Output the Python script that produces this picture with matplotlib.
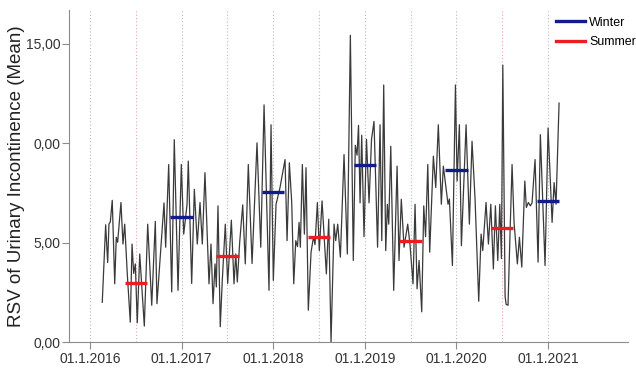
import numpy as np
import matplotlib.pyplot as plt
from matplotlib.lines import Line2D

plt.rcParams['font.family'] = ['Liberation Sans', 'DejaVu Sans']

# weekly search volume, time in years since 01.01.2016
years = [0.134, 0.171, 0.193, 0.207, 0.222, 0.243, 0.270, 0.287, 0.302, 0.338,
         0.360, 0.379, 0.407, 0.440, 0.459, 0.477, 0.495, 0.516, 0.543, 0.593,
         0.630, 0.674, 0.713, 0.731, 0.808, 0.826, 0.859, 0.892, 0.920, 0.961,
         0.997, 1.023, 1.059, 1.073, 1.110, 1.139, 1.171, 1.201, 1.226, 1.255,
         1.299, 1.321, 1.343, 1.365, 1.379, 1.397, 1.422, 1.444, 1.477, 1.503,
         1.543, 1.572, 1.591, 1.608, 1.634, 1.667, 1.695, 1.728, 1.769, 1.823,
         1.864, 1.900, 1.954, 1.976, 2.001, 2.031, 2.074, 2.129, 2.151, 2.176,
         2.202, 2.224, 2.246, 2.265, 2.282, 2.296, 2.318, 2.340, 2.358, 2.383,
         2.413, 2.440, 2.456, 2.482, 2.503, 2.533, 2.580, 2.606, 2.631, 2.664,
         2.682, 2.704, 2.733, 2.773, 2.809, 2.842, 2.874, 2.896, 2.915, 2.931,
         2.948, 2.966, 2.991, 3.018, 3.046, 3.073, 3.100, 3.139, 3.166, 3.185,
         3.206, 3.228, 3.246, 3.261, 3.283, 3.315, 3.352, 3.373, 3.398, 3.428,
         3.468, 3.493, 3.526, 3.548, 3.570, 3.592, 3.621, 3.643, 3.663, 3.687,
         3.708, 3.748, 3.774, 3.802, 3.835, 3.857, 3.908, 3.923, 3.956, 3.989,
         4.007, 4.032, 4.054, 4.105, 4.141, 4.170, 4.203, 4.243, 4.269, 4.287,
         4.323, 4.349, 4.375, 4.403, 4.425, 4.451, 4.473, 4.491, 4.506, 4.531,
         4.542, 4.563, 4.585, 4.607, 4.629, 4.665, 4.687, 4.713, 4.746, 4.763,
         4.785, 4.807, 4.825, 4.858, 4.891, 4.916, 4.967, 5.000, 5.044, 5.066,
         5.087, 5.120]
rsv = [2.0, 5.9, 4.0, 5.93, 6.05, 7.13, 2.93, 5.27, 5.02, 7.02,
       4.93, 5.93, 3.43, 1.0, 4.93, 3.45, 3.93, 0.97, 4.43, 0.8,
       5.93, 1.85, 6.07, 1.93, 7.0, 4.77, 8.93, 2.52, 10.18, 2.6,
       8.93, 5.43, 6.9, 9.1, 2.95, 7.68, 4.93, 7.02, 4.93, 8.52,
       2.93, 4.93, 1.93, 3.93, 2.77, 6.85, 0.77, 3.1, 5.93, 2.95,
       6.13, 2.93, 4.43, 3.02, 5.02, 6.9, 3.93, 8.93, 3.95, 10.02,
       4.77, 11.93, 2.6, 10.93, 3.1, 6.93, 7.77, 9.18, 5.1, 9.02,
       7.02, 2.93, 5.1, 4.8, 6.02, 4.77, 8.93, 5.43, 8.77, 1.6,
       4.52, 5.3, 4.9, 7.02, 4.6, 7.1, 3.43, 6.18, 0.0, 5.93,
       5.1, 5.93, 4.27, 9.43, 4.43, 15.43, 4.1, 9.9, 9.4, 10.9,
       7.0, 10.4, 5.3, 10.2, 7.0, 10.2, 11.1, 4.77, 10.93, 5.1,
       12.93, 4.6, 6.93, 5.93, 9.85, 2.6, 8.85, 4.1, 7.18, 4.77,
       5.93, 4.9, 2.93, 6.93, 2.68, 4.1, 1.52, 6.85, 5.3, 8.93,
       4.52, 9.35, 7.77, 10.93, 6.93, 8.85, 6.93, 7.2, 3.85, 12.93,
       8.1, 10.93, 4.85, 10.93, 5.93, 10.1, 7.2, 2.05, 5.43, 4.6,
       7.02, 4.93, 6.93, 3.68, 6.85, 4.1, 6.93, 4.2, 13.93, 2.3,
       1.9, 1.85, 5.5, 8.93, 6.0, 3.93, 5.27, 3.77, 8.1, 6.77,
       7.02, 6.85, 7.0, 9.18, 4.02, 10.43, 3.85, 10.77, 6.02, 8.02,
       6.93, 12.02]

# seasonal means (centre of season in years since 2016)
summer_mid = [0.5, 1.5, 2.5, 3.5, 4.5]
summer_mean = [2.97, 4.35, 5.3, 5.1, 5.73]
winter_mid = [1.0, 2.0, 3.0, 4.0, 5.0]
winter_mean = [6.3, 7.55, 8.9, 8.67, 7.07]

year_ticks = [0, 1, 2, 3, 4, 5]
year_labels = ['01.1.2016', '01.1.2017', '01.1.2018', '01.1.2019', '01.1.2020', '01.1.2021']
y_ticks = [0, 5, 10, 15]
y_labels = ['0,00', '5,00', '0,00', '15,00']

WINTER = '#101c8c'
SUMMER = '#ec1c24'
half = 0.122

fig = plt.figure(figsize=(6.36, 3.71), dpi=100)
ax = fig.add_axes([0.1085, 0.078, 0.879, 0.895])

for yt in year_ticks:
    ax.axvline(yt, color='#b8b8b8', lw=0.8, ls=(0, (1, 2)), zorder=1)
for sm in summer_mid:
    ax.axvline(sm, color='#eba5a5', lw=0.8, ls=(0, (1, 2)), zorder=1)

ax.plot(years, rsv, color='#3a3a3a', lw=0.9, zorder=2)

ax.hlines(winter_mean, np.array(winter_mid) - half, np.array(winter_mid) + half,
          color=WINTER, lw=2.4, zorder=3)
ax.hlines(summer_mean, np.array(summer_mid) - half, np.array(summer_mid) + half,
          color=SUMMER, lw=2.4, zorder=3)

ax.set_xlim(-0.229, 5.873)
ax.set_ylim(0, 16.7)
ax.set_xticks(year_ticks)
ax.set_xticklabels(year_labels)
ax.set_yticks(y_ticks)
ax.set_yticklabels(y_labels)

for side in ['top', 'right']:
    ax.spines[side].set_visible(False)
for side in ['left', 'bottom']:
    ax.spines[side].set_color('#8c8c8c')
    ax.spines[side].set_linewidth(0.8)
ax.tick_params(axis='both', colors='#8c8c8c', length=5, width=0.8,
               labelcolor='#333333', labelsize=10)
ax.tick_params(axis='y', pad=1)
ax.tick_params(axis='x', pad=2)

ax.set_ylabel('RSV of Urinary Incontinence (Mean)', fontsize=13.5, color='#222222', labelpad=1)

handles = [Line2D([], [], color=WINTER, lw=2.4), Line2D([], [], color=SUMMER, lw=2.4)]
fig.legend(handles, ['Winter', 'Summer'], loc='upper left',
           bbox_to_anchor=(0.87, 0.962), frameon=False, fontsize=9,
           handlelength=2.3, handletextpad=0.35, labelspacing=0.6,
           borderpad=0.2, borderaxespad=0)

fig.savefig('out.png', dpi=100)
